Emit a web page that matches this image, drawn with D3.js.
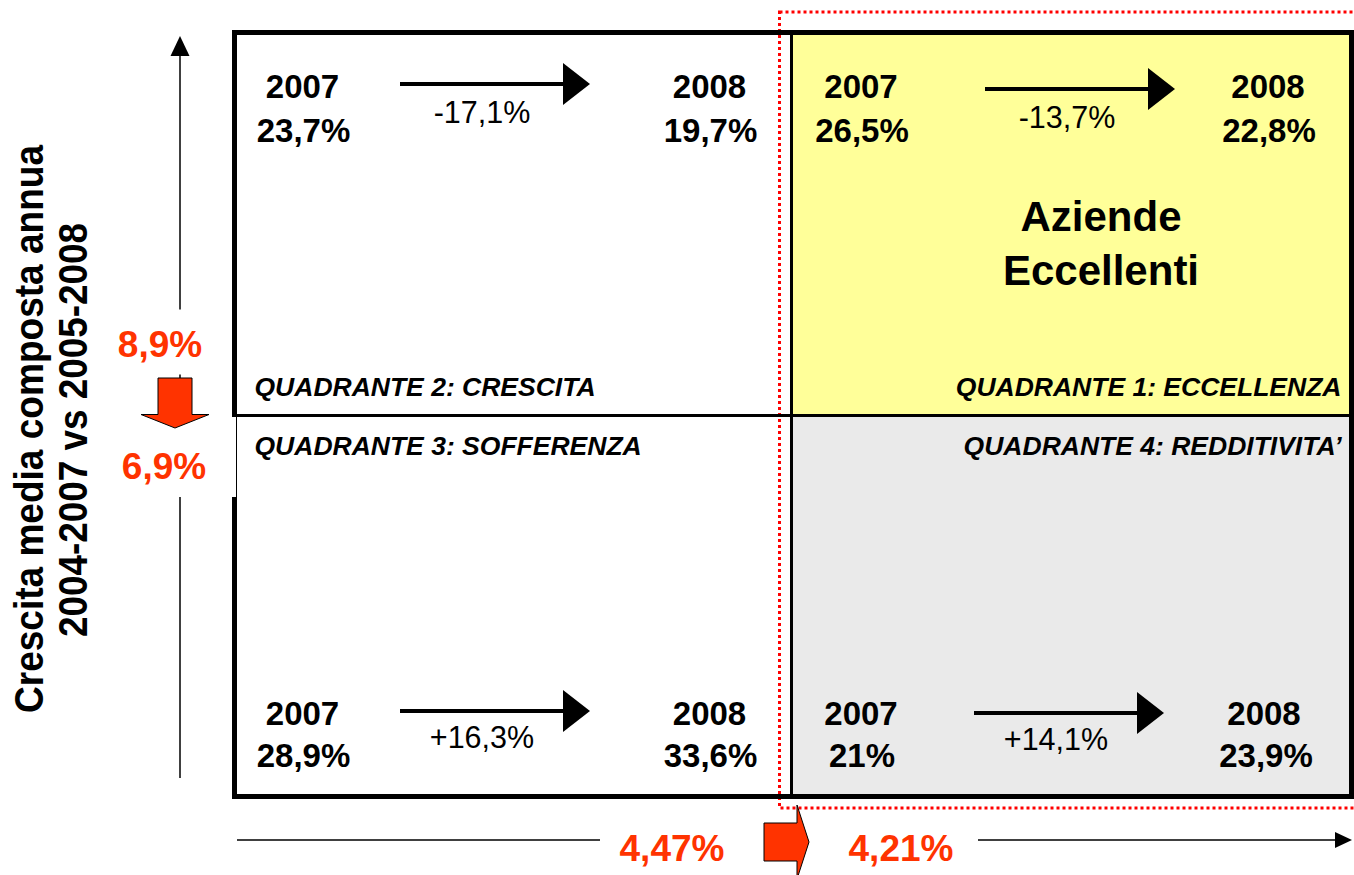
<!DOCTYPE html>
<html>
<head>
<meta charset="utf-8">
<script src="https://cdn.jsdelivr.net/npm/d3@7"></script>
<style>
  body { margin: 0; background: #fff; }
  svg { display: block; font-family: "Liberation Sans", Arial, sans-serif; }
</style>
</head>
<body>
<div id="chart"></div>
<script>
// Quadrant data (order: Q1, Q2, Q3, Q4)
var quadrantNames = ["QUADRANTE 1: ECCELLENZA", "QUADRANTE 2: CRESCITA", "QUADRANTE 3: SOFFERENZA", "QUADRANTE 4: REDDITIVITA\u2019"];
var quadrantCols = ["right", "left", "left", "right"];
var quadrantRows = ["top", "top", "bottom", "bottom"];
var years = ["2007", "2008"];
var share2007 = [26.5, 23.7, 28.9, 21];
var share2008 = [22.8, 19.7, 33.6, 23.9];
var shareChange = [-13.7, -17.1, 16.3, 14.1];

// axis thresholds
var growthY = [8.9, 6.9];     // crescita media composta annua
var growthX = [4.47, 4.21];
var yTitleLines = ["Crescita media composta annua", "2004-2007 vs 2005-2008"];
var highlightLines = ["Aziende", "Eccellenti"];

var svgWidth = 1354;
var svgHeight = 875;
var orange = "#ff3300";

var locale = d3.formatLocale({ decimal: ",", thousands: ".", grouping: [3], currency: ["\u20ac", ""], minus: "-" });
var fmtShare = locale.format(".1~f");
var fmtChange = locale.format("+.1f");
var fmtY = locale.format(".1f");
var fmtX = locale.format(".2f");

var svg = d3.select("#chart")
    .append("svg")
    .attr("width", svgWidth)
    .attr("height", svgHeight);

// band scales for the 2x2 grid
var x = d3.scaleBand().domain(["left", "right"]).range([234.5, 1351.5]);
var y = d3.scaleBand().domain(["top", "bottom"]).range([32.5, 796.5]);
var xMid = x("right");
var yMid = y("bottom");

var quads = quadrantNames.map(function (name, i) {
    return { name: name, col: quadrantCols[i], row: quadrantRows[i], v0: share2007[i], v1: share2008[i], ch: shareChange[i] };
});

// per-quadrant placement of arrow inside the cell
var placement = [
    { ax: 192, ay: 56.5, cy: 95.5 },
    { ax: 165.5, ay: 51.5, cy: 90.5 },
    { ax: 165.5, ay: 296.5, cy: 333.5 },
    { ax: 181, ay: 298.5, cy: 335.5 }
];

// fills
var fills = { top: { right: "#ffff99", left: "#ffffff" }, bottom: { right: "#eaeaea", left: "#ffffff" } };
svg.append("g").selectAll("rect")
    .data(quads)
    .enter()
    .append("rect")
    .attr("x", d => x(d.col))
    .attr("y", d => y(d.row))
    .attr("width", x.bandwidth())
    .attr("height", y.bandwidth())
    .attr("fill", d => fills[d.row][d.col]);

// red dotted highlight around the right half
svg.append("rect")
    .attr("x", xMid - 13.5)
    .attr("y", 12)
    .attr("width", 600)
    .attr("height", 796)
    .attr("fill", "none")
    .attr("stroke", "#ff0000")
    .attr("stroke-width", 3)
    .attr("stroke-dasharray", "3,3");

// dividers and frame
svg.append("line")
    .attr("x1", xMid - 1.5).attr("x2", xMid - 1.5)
    .attr("y1", y.range()[0]).attr("y2", y.range()[1])
    .attr("stroke", "#000").attr("stroke-width", 3);
svg.append("line")
    .attr("x1", x.range()[0]).attr("x2", x.range()[1])
    .attr("y1", yMid + 1).attr("y2", yMid + 1)
    .attr("stroke", "#000").attr("stroke-width", 3);
svg.append("rect")
    .attr("x", x.range()[0])
    .attr("y", y.range()[0])
    .attr("width", x.range()[1] - x.range()[0])
    .attr("height", y.range()[1] - y.range()[0])
    .attr("fill", "none")
    .attr("stroke", "#000")
    .attr("stroke-width", 5);

// vertical axis (growth)
var axisX = 180;
svg.append("line")
    .attr("x1", axisX).attr("x2", axisX)
    .attr("y1", 54).attr("y2", 778)
    .attr("stroke", "#000").attr("stroke-width", 1.5);
svg.append("path")
    .attr("d", `M${axisX},36 L${axisX + 9.5},56 L${axisX - 9.5},56 Z`)
    .attr("fill", "#000");

// horizontal axis
var axisY = 840;
svg.append("line")
    .attr("x1", 237).attr("x2", 1337)
    .attr("y1", axisY).attr("y2", axisY)
    .attr("stroke", "#000").attr("stroke-width", 1.5);
svg.append("path")
    .attr("d", `M1352,${axisY} L1335,${axisY - 8} L1335,${axisY + 8} Z`)
    .attr("fill", "#000");

// white label backgrounds
svg.append("rect").attr("x", 100).attr("y", yMid - 105).attr("width", 132).attr("height", 65).attr("fill", "#fff");
svg.append("rect").attr("x", 100).attr("y", yMid + 2.5).attr("width", 136).attr("height", 80).attr("fill", "#fff");
svg.append("rect").attr("x", 600).attr("y", 820).attr("width", 378).attr("height", 50).attr("fill", "#fff");

// y-axis threshold labels and arrow
svg.append("text")
    .attr("x", 160).attr("y", yMid - 57.5)
    .attr("text-anchor", "middle")
    .attr("font-size", 37).attr("font-weight", "bold").attr("fill", orange)
    .text(fmtY(growthY[0]) + "%");
svg.append("text")
    .attr("x", 164).attr("y", yMid + 64.5)
    .attr("text-anchor", "middle")
    .attr("font-size", 37).attr("font-weight", "bold").attr("fill", orange)
    .text(fmtY(growthY[1]) + "%");
svg.append("path")
    .attr("d", `M158,${yMid - 36.5} H192 V${yMid} H209 L175,${yMid + 13.5} L141,${yMid} H158 Z`)
    .attr("fill", orange).attr("stroke", "#000").attr("stroke-width", 1);

// x-axis threshold labels and arrow
svg.append("text")
    .attr("x", 672).attr("y", 861)
    .attr("text-anchor", "middle")
    .attr("font-size", 37).attr("font-weight", "bold").attr("fill", orange)
    .text(fmtX(growthX[0]) + "%");
svg.append("text")
    .attr("x", 901).attr("y", 861)
    .attr("text-anchor", "middle")
    .attr("font-size", 37).attr("font-weight", "bold").attr("fill", orange)
    .text(fmtX(growthX[1]) + "%");
var ax0 = xMid - 29;
svg.append("path")
    .attr("d", `M${ax0},823 H${ax0 + 33} V805 L${ax0 + 45},842 L${ax0 + 33},879 V861 H${ax0} Z`)
    .attr("fill", orange).attr("stroke", "#000").attr("stroke-width", 1);

// y-axis title (narrow bold, squeezed to the reference length)
yTitleLines.forEach(function (t, i) {
    svg.append("text")
        .attr("transform", `translate(${[43, 87][i]}, ${[429, 430][i]}) rotate(-90)`)
        .attr("text-anchor", "middle")
        .attr("font-size", 40)
        .attr("font-weight", "bold")
        .attr("textLength", [568, 414][i])
        .attr("lengthAdjust", "spacingAndGlyphs")
        .text(t);
});

// quadrant contents
var cells = svg.append("g").selectAll("g")
    .data(quads)
    .enter()
    .append("g")
    .attr("transform", d => `translate(${x(d.col)}, ${y(d.row)})`);

var yearY = d => d.row == "top" ? 65.5 : 310.5;
var valY = d => d.row == "top" ? 109.5 : 352.5;

cells.append("text")
    .attr("x", 68).attr("y", yearY)
    .attr("text-anchor", "middle").attr("font-size", 33).attr("font-weight", "bold")
    .text(years[0]);
cells.append("text")
    .attr("x", 69).attr("y", valY)
    .attr("text-anchor", "middle").attr("font-size", 33).attr("font-weight", "bold")
    .text(d => fmtShare(d.v0) + "%");
cells.append("text")
    .attr("x", (d, i) => i == 3 ? 471 : 475).attr("y", yearY)
    .attr("text-anchor", "middle").attr("font-size", 33).attr("font-weight", "bold")
    .text(years[1]);
cells.append("text")
    .attr("x", (d, i) => i == 3 ? 473 : 476).attr("y", valY)
    .attr("text-anchor", "middle").attr("font-size", 33).attr("font-weight", "bold")
    .text(d => fmtShare(d.v1) + "%");

// change arrows
cells.append("line")
    .attr("x1", (d, i) => placement[i].ax)
    .attr("x2", (d, i) => placement[i].ax + 165)
    .attr("y1", (d, i) => placement[i].ay)
    .attr("y2", (d, i) => placement[i].ay)
    .attr("stroke", "#000").attr("stroke-width", 4);
cells.append("path")
    .attr("d", function (d, i) {
        var p = placement[i];
        return `M${p.ax + 163},${p.ay - 21} L${p.ax + 190},${p.ay} L${p.ax + 163},${p.ay + 21} Z`;
    })
    .attr("fill", "#000");
cells.append("text")
    .attr("x", (d, i) => placement[i].ax + 82)
    .attr("y", (d, i) => placement[i].cy)
    .attr("text-anchor", "middle").attr("font-size", 30.5)
    .text(d => fmtChange(d.ch) + "%");

// quadrant names
cells.append("text")
    .attr("x", d => d.col == "left" ? 20 : x.bandwidth() - 10)
    .attr("y", d => d.row == "top" ? 363 : 40.5)
    .attr("text-anchor", d => d.col == "left" ? "start" : "end")
    .attr("font-size", 26.5).attr("font-weight", "bold").attr("font-style", "italic")
    .text(d => d.name);

// highlight label in quadrant 1
svg.append("g").selectAll("text")
    .data(highlightLines)
    .enter()
    .append("text")
    .attr("x", 1101)
    .attr("y", (d, i) => 231 + i * 54)
    .attr("text-anchor", "middle")
    .attr("font-size", 42).attr("font-weight", "bold")
    .text(d => d);
</script>
</body>
</html>
